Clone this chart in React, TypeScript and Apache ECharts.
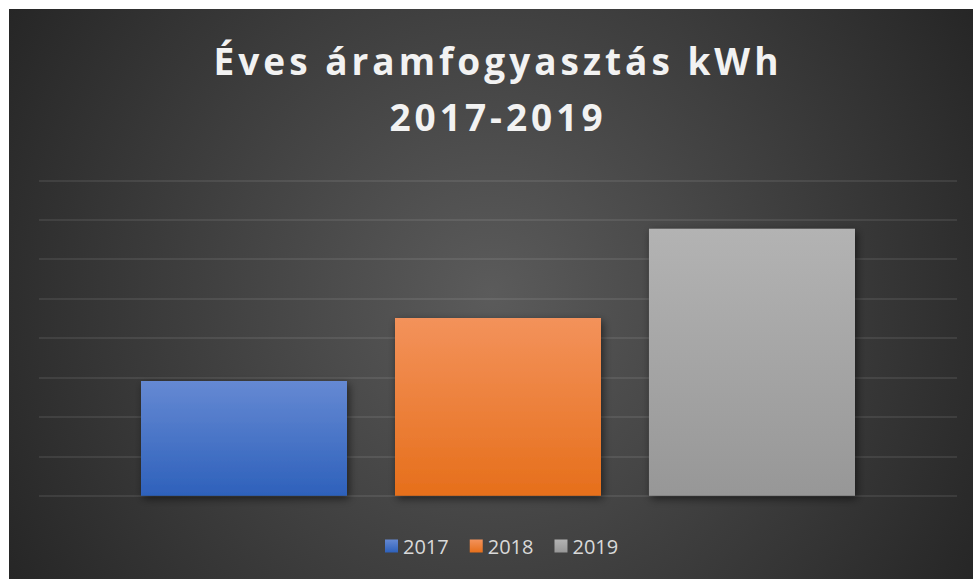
import React, { useEffect, useRef } from "react";
import * as echarts from "echarts";

const titleLines = ["Éves áramfogyasztás kWh", "2017-2019"];
const categories = [""];
const seriesNames = ["2017", "2018", "2019"];
const seriesValues = [1455, 2255, 3385];
const yMin = 0;
const yMax = 4000;
const yInterval = 500;

const gradients: [string, string][] = [
  ["#6589d3", "#2e61bb"],
  ["#f3925b", "#e66f1b"],
  ["#b3b3b3", "#979797"],
];

export default function App() {
  const ref = useRef<HTMLDivElement>(null);
  useEffect(() => {
    if (!ref.current) return;
    const chart = echarts.init(ref.current, undefined, { renderer: "svg" });
    chart.setOption({
      animation: false,
      backgroundColor: "transparent",
      graphic: [
        {
          type: "text",
          x: 489,
          y: 23,
          z: 10,
          style: {
            text: titleLines.join("\n"),
            align: "center",
            verticalAlign: "top",
            fill: "#f2f2f2",
            fontFamily: "'Open Sans'",
            fontWeight: "bold",
            fontSize: 37,
            lineHeight: 56,
            shadowColor: "rgba(0,0,0,0.7)",
            shadowBlur: 4,
            shadowOffsetX: 1,
            shadowOffsetY: 2,
          },
        },
      ],
      legend: {
        data: seriesNames,
        left: 371,
        top: 522,
        icon: "rect",
        itemWidth: 13,
        itemHeight: 13,
        itemGap: 21,
        textStyle: {
          color: "#d9d9d9",
          fontFamily: "'Open Sans'",
          fontSize: 20,
        },
      },
      grid: { left: 30, right: 16, top: 171.3, bottom: 83.3, containLabel: false },
      xAxis: {
        type: "category",
        data: categories,
        axisLine: { show: false },
        axisTick: { show: false },
        axisLabel: { show: false },
      },
      yAxis: {
        type: "value",
        min: yMin,
        max: yMax,
        interval: yInterval,
        axisLine: { show: false },
        axisTick: { show: false },
        axisLabel: { show: false },
        splitLine: { lineStyle: { color: "rgba(255,255,255,0.11)", width: 1.5 } },
      },
      series: seriesNames.map((name, i) => ({
        name,
        type: "bar",
        data: [seriesValues[i]],
        barWidth: 206,
        barGap: "23.3%",
        itemStyle: {
          color: new echarts.graphic.LinearGradient(0, 0, 0, 1, [
            { offset: 0, color: gradients[i][0] },
            { offset: 1, color: gradients[i][1] },
          ]),
          shadowColor: "rgba(0,0,0,0.55)",
          shadowBlur: 8,
          shadowOffsetX: 2,
          shadowOffsetY: 3,
        },
      })),
    });
    return () => chart.dispose();
  }, []);
  return (
    <>
      <style>{`#chartbox svg text[style*="37px"] { letter-spacing: 4px; }`}</style>
      <div
        id="chartbox"
        ref={ref}
        style={{
          position: "absolute",
          left: 9,
          top: 9,
          width: 964,
          height: 570,
          background:
            "radial-gradient(circle at 50% 50%, #5b5b5b 0px, #262626 560px)",
        }}
      />
    </>
  );
}
